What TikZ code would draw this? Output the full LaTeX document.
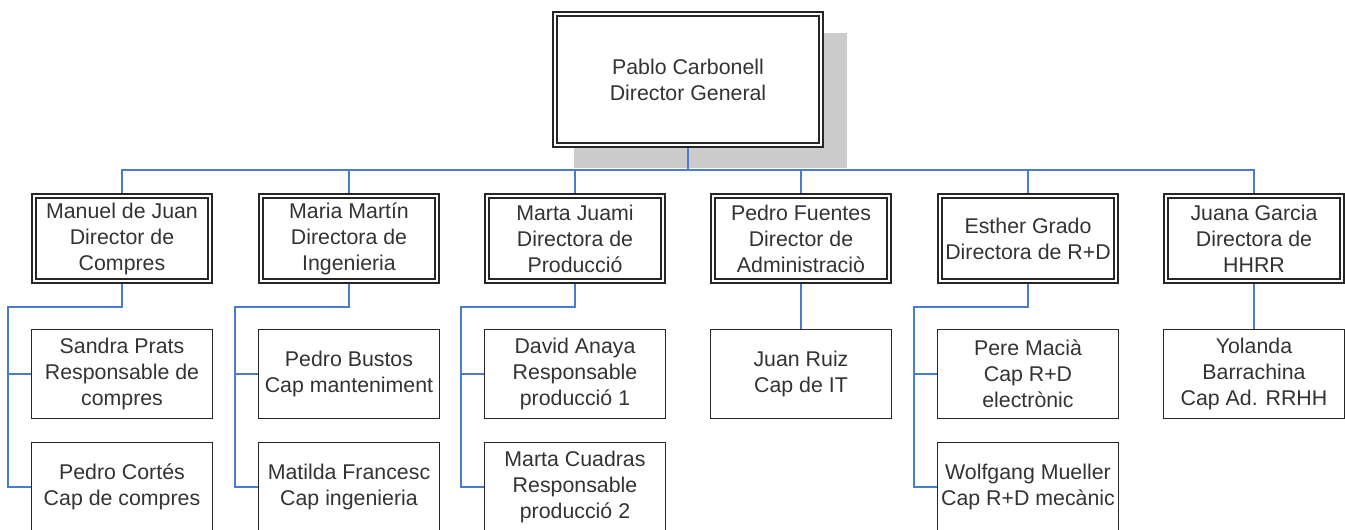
\documentclass[tikz,border=0pt]{standalone}
\usepackage{fontspec}
\setmainfont{Liberation Sans}
\pgfdeclarelayer{background}
\pgfsetlayers{background,main}
\definecolor{linkblue}{RGB}{72,124,206}
\definecolor{shadowgray}{RGB}{204,204,204}
\tikzset{
    orgtext/.style={align=center, inner sep=0pt, text=black!80,
        font=\fontsize{16}{19.5}\selectfont},
    chief/.style={orgtext, draw=black!85, fill=white, double=white,
        double distance=1.8pt, line width=1.2pt},
    topbox/.style={chief, minimum width=199.8pt, minimum height=98.5pt},
    headbox/.style={chief, minimum width=132.3pt, minimum height=64pt},
    staffbox/.style={orgtext, draw=black!85, fill=white, line width=1.1pt,
        minimum width=135.4pt, minimum height=66.4pt},
    link/.style={draw=linkblue, line width=0.9pt}
}

\begin{document}
\begin{tikzpicture}[x=0.75pt, y=-0.75pt]
    \useasboundingbox (0,0) rectangle (1345,529);
    \clip (0,0) rectangle (1345,529);

    % director
    \node[topbox] (pablo) at (688,79.5) {Pablo Carbonell\\Director General};
    \coordinate (bus) at (688,170);

    % heads of department
    \node[headbox] (manuel) at (122,238.5) {Manuel de Juan\\Director de\\Compres};
    \node[headbox] (maria)  at (349,238.5) {Maria Martín\\Directora de\\Ingenieria};
    \node[headbox] (marta)  at (575,238.5) {Marta Juami\\Directora de\\Producció};
    \node[headbox] (pedro)  at (801,238.5) {Pedro Fuentes\\Director de\\Administraciò};
    \node[headbox] (esther) at (1028,238.5) {Esther Grado\\Directora de R+D};
    \node[headbox] (juana)  at (1254,238.5) {Juana Garcia\\Directora de\\HHRR};

    % staff
    \node[staffbox] (sandra)  at (122,374) {Sandra Prats\\Responsable de\\compres};
    \node[staffbox] (cortes)  at (122,487) {Pedro Cortés\\Cap de compres};
    \node[staffbox] (bustos)  at (349,374) {Pedro Bustos\\Cap manteniment};
    \node[staffbox] (matilda) at (349,487) {Matilda Francesc\\Cap ingenieria};
    \node[staffbox] (anaya)   at (575,374) {David Anaya\\Responsable\\producció 1};
    \node[staffbox] (cuadras) at (575,487) {Marta Cuadras\\Responsable\\producció 2};
    \node[staffbox] (ruiz)    at (801,374) {Juan Ruiz\\Cap de IT};
    \node[staffbox] (macia)   at (1028,374) {Pere Macià\\Cap R+D\\electrònic};
    \node[staffbox] (mueller) at (1028,487) {Wolfgang Mueller\\Cap R+D mecànic};
    \node[staffbox] (yolanda) at (1254,374) {Yolanda\\Barrachina\\Cap Ad. RRHH};

    \begin{pgfonlayer}{background}
        \fill[shadowgray] ([shift={(20,20)}]pablo.north west) rectangle ([shift={(25,22)}]pablo.south east);
        \draw[link] (pablo) -- (bus);
        \foreach \n in {manuel,maria,marta,pedro,esther,juana}
            \draw[link] (\n.north) |- (bus);
        % two-person departments
        \foreach \h/\a/\b in {manuel/sandra/cortes, maria/bustos/matilda,
                              marta/anaya/cuadras, esther/macia/mueller} {
            \draw[link] (\h.south) -- ++(0,25) -| ([xshift=-17.25pt]\b.west) -- (\b.west);
            \draw[link] (\a.west) -- ++(-23,0);
        }
        \draw[link] (pedro) -- (ruiz);
        \draw[link] (juana) -- (yolanda);
    \end{pgfonlayer}
\end{tikzpicture}
\end{document}
